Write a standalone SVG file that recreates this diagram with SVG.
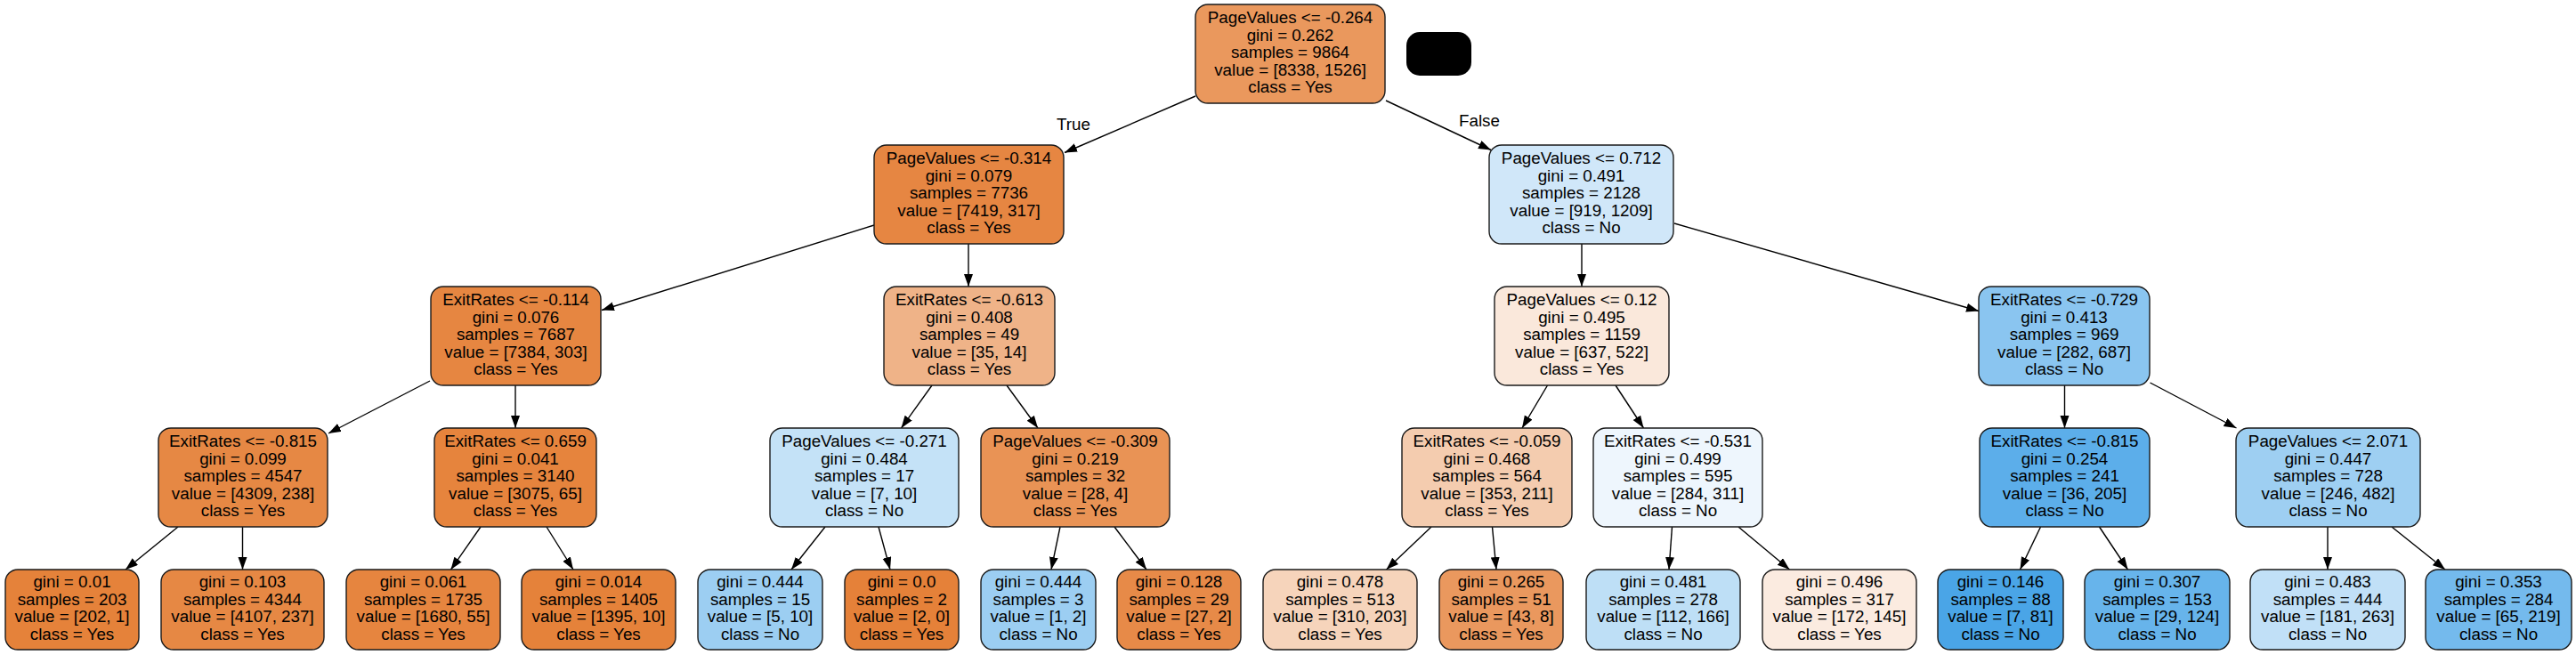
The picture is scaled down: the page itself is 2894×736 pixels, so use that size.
<svg xmlns="http://www.w3.org/2000/svg" width="2894" height="736" viewBox="0 0 2894 736">
<style>
.n{stroke:#1a1a1a;stroke-width:1.4}
.t{font-family:"Liberation Sans",Arial,Helvetica,sans-serif;font-size:18.8px;fill:#000;text-anchor:middle}
.e{stroke:#000;stroke-width:1.4;fill:none;marker-end:url(#ah)}
</style>
<defs>
<marker id="ah" markerUnits="userSpaceOnUse" markerWidth="15" markerHeight="11" refX="14" refY="5" orient="auto">
<path d="M0,0 L14,5 L0,10 Z" fill="#000"/>
</marker>
</defs>
<rect x="0" y="0" width="2894" height="736" fill="#fff"/>

<g id="connectors">
<line class="e" x1="1343" y1="108" x2="1196" y2="171.5"/>
<line class="e" x1="1557" y1="113" x2="1675" y2="168.5"/>
<line class="e" x1="982" y1="253" x2="676" y2="348.5"/>
<line class="e" x1="1088" y1="274" x2="1088" y2="322"/>
<line class="e" x1="1777" y1="274" x2="1777" y2="322"/>
<line class="e" x1="1881" y1="251" x2="2223" y2="349.5"/>
<line class="e" x1="483" y1="428" x2="369" y2="487"/>
<line class="e" x1="579" y1="433" x2="579" y2="481"/>
<line class="e" x1="1047" y1="433" x2="1012.5" y2="481"/>
<line class="e" x1="1131" y1="433" x2="1166" y2="481"/>
<line class="e" x1="1738.5" y1="433" x2="1710" y2="481"/>
<line class="e" x1="1815" y1="433" x2="1846.5" y2="481"/>
<line class="e" x1="2319.5" y1="433" x2="2319.5" y2="481"/>
<line class="e" x1="2415.5" y1="430" x2="2512.5" y2="481"/>
<line class="e" x1="200" y1="592" x2="141" y2="640"/>
<line class="e" x1="272.5" y1="592" x2="272.5" y2="640"/>
<line class="e" x1="540" y1="592" x2="506.5" y2="640"/>
<line class="e" x1="614" y1="592" x2="644" y2="640"/>
<line class="e" x1="927" y1="592" x2="889" y2="640"/>
<line class="e" x1="987" y1="592" x2="1000" y2="640"/>
<line class="e" x1="1191" y1="592" x2="1181" y2="640"/>
<line class="e" x1="1252" y1="592" x2="1288" y2="640"/>
<line class="e" x1="1608" y1="592" x2="1557.5" y2="640"/>
<line class="e" x1="1676.5" y1="592" x2="1681" y2="640"/>
<line class="e" x1="1878.5" y1="592" x2="1875" y2="640"/>
<line class="e" x1="1953" y1="592" x2="2010.5" y2="640"/>
<line class="e" x1="2292.5" y1="592" x2="2269.5" y2="640"/>
<line class="e" x1="2358.5" y1="592" x2="2390.5" y2="640"/>
<line class="e" x1="2615" y1="592" x2="2615" y2="640"/>
<line class="e" x1="2687" y1="592" x2="2747" y2="640"/>
<text class="t" x="1206" y="145.5">True</text>
<text class="t" x="1662" y="141.5">False</text>
</g>

<g id="redacted"><rect x="1580" y="36" width="73" height="49" rx="15" fill="#000"/></g>

<g id="n0"><rect class="n" x="1343" y="5" width="213" height="111" rx="14" fill="#ea985d"/>
<text class="t" y="26"><tspan x="1449.5">PageValues &lt;= -0.264</tspan><tspan x="1449.5" dy="19.6">gini = 0.262</tspan><tspan x="1449.5" dy="19.6">samples = 9864</tspan><tspan x="1449.5" dy="19.6">value = [8338, 1526]</tspan><tspan x="1449.5" dy="19.6">class = Yes</tspan></text></g>

<g id="n1"><rect class="n" x="982" y="163" width="213" height="111" rx="14" fill="#e68642"/>
<text class="t" y="184"><tspan x="1088.5">PageValues &lt;= -0.314</tspan><tspan x="1088.5" dy="19.6">gini = 0.079</tspan><tspan x="1088.5" dy="19.6">samples = 7736</tspan><tspan x="1088.5" dy="19.6">value = [7419, 317]</tspan><tspan x="1088.5" dy="19.6">class = Yes</tspan></text></g>

<g id="n16"><rect class="n" x="1673" y="163" width="207" height="111" rx="14" fill="#d0e7f9"/>
<text class="t" y="184"><tspan x="1776.5">PageValues &lt;= 0.712</tspan><tspan x="1776.5" dy="19.6">gini = 0.491</tspan><tspan x="1776.5" dy="19.6">samples = 2128</tspan><tspan x="1776.5" dy="19.6">value = [919, 1209]</tspan><tspan x="1776.5" dy="19.6">class = No</tspan></text></g>

<g id="n2"><rect class="n" x="484" y="322" width="191" height="111" rx="14" fill="#e68641"/>
<text class="t" y="343"><tspan x="579.5">ExitRates &lt;= -0.114</tspan><tspan x="579.5" dy="19.6">gini = 0.076</tspan><tspan x="579.5" dy="19.6">samples = 7687</tspan><tspan x="579.5" dy="19.6">value = [7384, 303]</tspan><tspan x="579.5" dy="19.6">class = Yes</tspan></text></g>

<g id="n9"><rect class="n" x="993" y="322" width="192" height="111" rx="14" fill="#efb388"/>
<text class="t" y="343"><tspan x="1089">ExitRates &lt;= -0.613</tspan><tspan x="1089" dy="19.6">gini = 0.408</tspan><tspan x="1089" dy="19.6">samples = 49</tspan><tspan x="1089" dy="19.6">value = [35, 14]</tspan><tspan x="1089" dy="19.6">class = Yes</tspan></text></g>

<g id="n17"><rect class="n" x="1679" y="322" width="196" height="111" rx="14" fill="#fae8db"/>
<text class="t" y="343"><tspan x="1777">PageValues &lt;= 0.12</tspan><tspan x="1777" dy="19.6">gini = 0.495</tspan><tspan x="1777" dy="19.6">samples = 1159</tspan><tspan x="1777" dy="19.6">value = [637, 522]</tspan><tspan x="1777" dy="19.6">class = Yes</tspan></text></g>

<g id="n24"><rect class="n" x="2223" y="322" width="192" height="111" rx="14" fill="#8ac5f0"/>
<text class="t" y="343"><tspan x="2319">ExitRates &lt;= -0.729</tspan><tspan x="2319" dy="19.6">gini = 0.413</tspan><tspan x="2319" dy="19.6">samples = 969</tspan><tspan x="2319" dy="19.6">value = [282, 687]</tspan><tspan x="2319" dy="19.6">class = No</tspan></text></g>

<g id="n3"><rect class="n" x="178" y="481" width="190" height="111" rx="14" fill="#e68844"/>
<text class="t" y="502"><tspan x="273">ExitRates &lt;= -0.815</tspan><tspan x="273" dy="19.6">gini = 0.099</tspan><tspan x="273" dy="19.6">samples = 4547</tspan><tspan x="273" dy="19.6">value = [4309, 238]</tspan><tspan x="273" dy="19.6">class = Yes</tspan></text></g>

<g id="n6"><rect class="n" x="488" y="481" width="182" height="111" rx="14" fill="#e6843d"/>
<text class="t" y="502"><tspan x="579">ExitRates &lt;= 0.659</tspan><tspan x="579" dy="19.6">gini = 0.041</tspan><tspan x="579" dy="19.6">samples = 3140</tspan><tspan x="579" dy="19.6">value = [3075, 65]</tspan><tspan x="579" dy="19.6">class = Yes</tspan></text></g>

<g id="n10"><rect class="n" x="865" y="481" width="212" height="111" rx="14" fill="#c4e2f7"/>
<text class="t" y="502"><tspan x="971">PageValues &lt;= -0.271</tspan><tspan x="971" dy="19.6">gini = 0.484</tspan><tspan x="971" dy="19.6">samples = 17</tspan><tspan x="971" dy="19.6">value = [7, 10]</tspan><tspan x="971" dy="19.6">class = No</tspan></text></g>

<g id="n13"><rect class="n" x="1102" y="481" width="212" height="111" rx="14" fill="#e99355"/>
<text class="t" y="502"><tspan x="1208">PageValues &lt;= -0.309</tspan><tspan x="1208" dy="19.6">gini = 0.219</tspan><tspan x="1208" dy="19.6">samples = 32</tspan><tspan x="1208" dy="19.6">value = [28, 4]</tspan><tspan x="1208" dy="19.6">class = Yes</tspan></text></g>

<g id="n18"><rect class="n" x="1575" y="481" width="191" height="111" rx="14" fill="#f4ccaf"/>
<text class="t" y="502"><tspan x="1670.5">ExitRates &lt;= -0.059</tspan><tspan x="1670.5" dy="19.6">gini = 0.468</tspan><tspan x="1670.5" dy="19.6">samples = 564</tspan><tspan x="1670.5" dy="19.6">value = [353, 211]</tspan><tspan x="1670.5" dy="19.6">class = Yes</tspan></text></g>

<g id="n21"><rect class="n" x="1790" y="481" width="190" height="111" rx="14" fill="#eef6fd"/>
<text class="t" y="502"><tspan x="1885">ExitRates &lt;= -0.531</tspan><tspan x="1885" dy="19.6">gini = 0.499</tspan><tspan x="1885" dy="19.6">samples = 595</tspan><tspan x="1885" dy="19.6">value = [284, 311]</tspan><tspan x="1885" dy="19.6">class = No</tspan></text></g>

<g id="n25"><rect class="n" x="2224" y="481" width="191" height="111" rx="14" fill="#5caeea"/>
<text class="t" y="502"><tspan x="2319.5">ExitRates &lt;= -0.815</tspan><tspan x="2319.5" dy="19.6">gini = 0.254</tspan><tspan x="2319.5" dy="19.6">samples = 241</tspan><tspan x="2319.5" dy="19.6">value = [36, 205]</tspan><tspan x="2319.5" dy="19.6">class = No</tspan></text></g>

<g id="n28"><rect class="n" x="2512" y="481" width="207" height="111" rx="14" fill="#9ecff2"/>
<text class="t" y="502"><tspan x="2615.5">PageValues &lt;= 2.071</tspan><tspan x="2615.5" dy="19.6">gini = 0.447</tspan><tspan x="2615.5" dy="19.6">samples = 728</tspan><tspan x="2615.5" dy="19.6">value = [246, 482]</tspan><tspan x="2615.5" dy="19.6">class = No</tspan></text></g>

<g id="n4"><rect class="n" x="6" y="640" width="150" height="90" rx="14" fill="#e5823a"/>
<text class="t" y="660"><tspan x="81">gini = 0.01</tspan><tspan x="81" dy="19.7">samples = 203</tspan><tspan x="81" dy="19.7">value = [202, 1]</tspan><tspan x="81" dy="19.7">class = Yes</tspan></text></g>

<g id="n5"><rect class="n" x="181" y="640" width="183" height="90" rx="14" fill="#e68844"/>
<text class="t" y="660"><tspan x="272.5">gini = 0.103</tspan><tspan x="272.5" dy="19.7">samples = 4344</tspan><tspan x="272.5" dy="19.7">value = [4107, 237]</tspan><tspan x="272.5" dy="19.7">class = Yes</tspan></text></g>

<g id="n7"><rect class="n" x="389" y="640" width="173" height="90" rx="14" fill="#e6853f"/>
<text class="t" y="660"><tspan x="475.5">gini = 0.061</tspan><tspan x="475.5" dy="19.7">samples = 1735</tspan><tspan x="475.5" dy="19.7">value = [1680, 55]</tspan><tspan x="475.5" dy="19.7">class = Yes</tspan></text></g>

<g id="n8"><rect class="n" x="586" y="640" width="173" height="90" rx="14" fill="#e5823a"/>
<text class="t" y="660"><tspan x="672.5">gini = 0.014</tspan><tspan x="672.5" dy="19.7">samples = 1405</tspan><tspan x="672.5" dy="19.7">value = [1395, 10]</tspan><tspan x="672.5" dy="19.7">class = Yes</tspan></text></g>

<g id="n11"><rect class="n" x="784" y="640" width="140" height="90" rx="14" fill="#9ccef2"/>
<text class="t" y="660"><tspan x="854">gini = 0.444</tspan><tspan x="854" dy="19.7">samples = 15</tspan><tspan x="854" dy="19.7">value = [5, 10]</tspan><tspan x="854" dy="19.7">class = No</tspan></text></g>

<g id="n12"><rect class="n" x="949" y="640" width="128" height="90" rx="14" fill="#e58139"/>
<text class="t" y="660"><tspan x="1013">gini = 0.0</tspan><tspan x="1013" dy="19.7">samples = 2</tspan><tspan x="1013" dy="19.7">value = [2, 0]</tspan><tspan x="1013" dy="19.7">class = Yes</tspan></text></g>

<g id="n14"><rect class="n" x="1102" y="640" width="129" height="90" rx="14" fill="#9ccef2"/>
<text class="t" y="660"><tspan x="1166.5">gini = 0.444</tspan><tspan x="1166.5" dy="19.7">samples = 3</tspan><tspan x="1166.5" dy="19.7">value = [1, 2]</tspan><tspan x="1166.5" dy="19.7">class = No</tspan></text></g>

<g id="n15"><rect class="n" x="1255" y="640" width="139" height="90" rx="14" fill="#e78a48"/>
<text class="t" y="660"><tspan x="1324.5">gini = 0.128</tspan><tspan x="1324.5" dy="19.7">samples = 29</tspan><tspan x="1324.5" dy="19.7">value = [27, 2]</tspan><tspan x="1324.5" dy="19.7">class = Yes</tspan></text></g>

<g id="n19"><rect class="n" x="1419" y="640" width="173" height="90" rx="14" fill="#f6d4bb"/>
<text class="t" y="660"><tspan x="1505.5">gini = 0.478</tspan><tspan x="1505.5" dy="19.7">samples = 513</tspan><tspan x="1505.5" dy="19.7">value = [310, 203]</tspan><tspan x="1505.5" dy="19.7">class = Yes</tspan></text></g>

<g id="n20"><rect class="n" x="1617" y="640" width="139" height="90" rx="14" fill="#ea985e"/>
<text class="t" y="660"><tspan x="1686.5">gini = 0.265</tspan><tspan x="1686.5" dy="19.7">samples = 51</tspan><tspan x="1686.5" dy="19.7">value = [43, 8]</tspan><tspan x="1686.5" dy="19.7">class = Yes</tspan></text></g>

<g id="n22"><rect class="n" x="1782" y="640" width="173" height="90" rx="14" fill="#bedff6"/>
<text class="t" y="660"><tspan x="1868.5">gini = 0.481</tspan><tspan x="1868.5" dy="19.7">samples = 278</tspan><tspan x="1868.5" dy="19.7">value = [112, 166]</tspan><tspan x="1868.5" dy="19.7">class = No</tspan></text></g>

<g id="n23"><rect class="n" x="1980" y="640" width="173" height="90" rx="14" fill="#fbebe0"/>
<text class="t" y="660"><tspan x="2066.5">gini = 0.496</tspan><tspan x="2066.5" dy="19.7">samples = 317</tspan><tspan x="2066.5" dy="19.7">value = [172, 145]</tspan><tspan x="2066.5" dy="19.7">class = Yes</tspan></text></g>

<g id="n26"><rect class="n" x="2177" y="640" width="141" height="90" rx="14" fill="#4aa5e7"/>
<text class="t" y="660"><tspan x="2247.5">gini = 0.146</tspan><tspan x="2247.5" dy="19.7">samples = 88</tspan><tspan x="2247.5" dy="19.7">value = [7, 81]</tspan><tspan x="2247.5" dy="19.7">class = No</tspan></text></g>

<g id="n27"><rect class="n" x="2342" y="640" width="163" height="90" rx="14" fill="#67b4eb"/>
<text class="t" y="660"><tspan x="2423.5">gini = 0.307</tspan><tspan x="2423.5" dy="19.7">samples = 153</tspan><tspan x="2423.5" dy="19.7">value = [29, 124]</tspan><tspan x="2423.5" dy="19.7">class = No</tspan></text></g>

<g id="n29"><rect class="n" x="2528" y="640" width="174" height="90" rx="14" fill="#c1e0f7"/>
<text class="t" y="660"><tspan x="2615">gini = 0.483</tspan><tspan x="2615" dy="19.7">samples = 444</tspan><tspan x="2615" dy="19.7">value = [181, 263]</tspan><tspan x="2615" dy="19.7">class = No</tspan></text></g>

<g id="n30"><rect class="n" x="2725" y="640" width="164" height="90" rx="14" fill="#74baed"/>
<text class="t" y="660"><tspan x="2807">gini = 0.353</tspan><tspan x="2807" dy="19.7">samples = 284</tspan><tspan x="2807" dy="19.7">value = [65, 219]</tspan><tspan x="2807" dy="19.7">class = No</tspan></text></g>
</svg>
